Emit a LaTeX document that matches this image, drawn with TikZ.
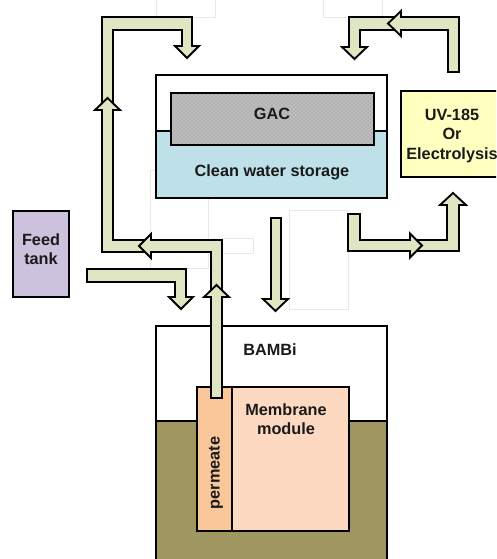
\documentclass[tikz,border=0pt]{standalone}
\usepackage{fontspec}
\setmainfont{Liberation Sans}
\usetikzlibrary{patterns}
\definecolor{arrowfill}{HTML}{DEE6C4}
\definecolor{waterc}{HTML}{BEE1E9}
\definecolor{uvc}{HTML}{FFFFC0}
\definecolor{feedc}{HTML}{CDC2DE}
\definecolor{olivec}{HTML}{A09660}
\definecolor{membc}{HTML}{FCD9C0}
\definecolor{permc}{HTML}{F9C79A}
\definecolor{textc}{HTML}{1A1A1A}
\newcommand\lblfont{\fontsize{12.2}{14.2}\selectfont\bfseries}
\begin{document}
\begin{tikzpicture}[x=0.75pt,y=-0.75pt,
  arr/.style={draw=black, line width=1.4pt, fill=arrowfill, line join=miter},
  boxd/.style={draw=black, line width=1.2pt},
  faint/.style={draw=black!9, line width=0.5pt},
  lbl/.style={font=\lblfont, text=textc, align=center, inner sep=0pt}]
\clip (0,0) rectangle (496,559);
\fill[white] (0,0) rectangle (496,559);
% faint artefacts
\draw[faint] (156,-2) rectangle (215,17);
\draw[faint] (323,-2) rectangle (382,17);
\draw[faint] (150,170) rectangle (208,268);
\draw[faint] (222,238) rectangle (253,253);
\draw[faint] (289,210) rectangle (348,309);
% storage
\draw[boxd, fill=white] (156,75) rectangle (387,198);
\draw[boxd, fill=waterc] (156,131) rectangle (387,198);
\fill[black!30] (171,93) rectangle (374,145);
\fill[pattern=crosshatch dots, pattern color=white!90!black] (171,93) rectangle (374,145);
\draw[boxd] (171,93) rectangle (374,145);
\node[lbl] (gac) at (272,114) {GAC};
\node[lbl] (store) at (272,172) {Clean water storage};
% UV box
\draw[boxd, fill=uvc] (401,91) rectangle (505,177);
\node[lbl, align=center] (uv) at (452,136) {UV-185\\[0.4pt]Or\\[0.4pt]Electrolysis};
% feed tank
\draw[boxd, fill=feedc] (13,211) rectangle (69,297);
\node[lbl] (feed) at (41,249) {Feed\\tank};
% BAMBi
\draw[boxd, fill=white] (156,326) rectangle (387,570);
\draw[boxd, fill=olivec] (156,421) rectangle (387,570);
\node[lbl] (bambi) at (270,350) {BAMBi};
\draw[boxd, fill=membc] (232,387) rectangle (349,531);
\draw[boxd, fill=permc] (197,387) rectangle (232,531);
\node[lbl] (memb) at (286,419) {Membrane\\module};
\node[lbl, rotate=90] (perm) at (216,473) {permeate};
% arrows: left loop
\draw[arr] (107,106) -- (102,106) -- (102,17) -- (192,17) -- (192,46) -- (199,46) -- (187,58) -- (175,46) -- (182,46) -- (182,30) -- (113,30) -- (113,106) -- cycle;
\draw[arr] (148,240) -- (113,240) -- (113,110) -- (120,110) -- (107.5,98) -- (95,110) -- (102,110) -- (102,252) -- (148,252) -- cycle;
\draw[arr] (211,294) -- (211,252) -- (151,252) -- (151,258) -- (139,246) -- (151,234) -- (151,240) -- (222,240) -- (222,294) -- cycle;
\draw[arr] (211,398) -- (211,297) -- (204,297) -- (216.5,285) -- (229,297) -- (222,297) -- (222,398) -- cycle;
% top right
\draw[arr] (398,17) -- (349,17) -- (349,47) -- (342,47) -- (354.5,59) -- (367,47) -- (360,47) -- (360,30) -- (398,30) -- cycle;
\draw[arr] (448,72) -- (448,30) -- (401,30) -- (401,36) -- (388,23.5) -- (401,11) -- (401,17) -- (459,17) -- (459,72) -- cycle;
% bottom right
\draw[arr] (413,240) -- (447,240) -- (447,205) -- (440,205) -- (453,193) -- (466,205) -- (459,205) -- (459,251) -- (413,251) -- cycle;
\draw[arr] (348,214) -- (348,251) -- (410,251) -- (410,257.5) -- (422,245.5) -- (410,233.5) -- (410,240) -- (360,240) -- (360,214) -- cycle;
% down arrow
\draw[arr] (271,218) -- (271,299) -- (263,299) -- (275.5,311) -- (288,299) -- (281,299) -- (281,218) -- cycle;
% feed arrow
\draw[arr] (87,269) -- (186,269) -- (186,297) -- (193,297) -- (181,309) -- (169,297) -- (175,297) -- (175,282) -- (87,282) -- cycle;
\end{tikzpicture}
\end{document}
